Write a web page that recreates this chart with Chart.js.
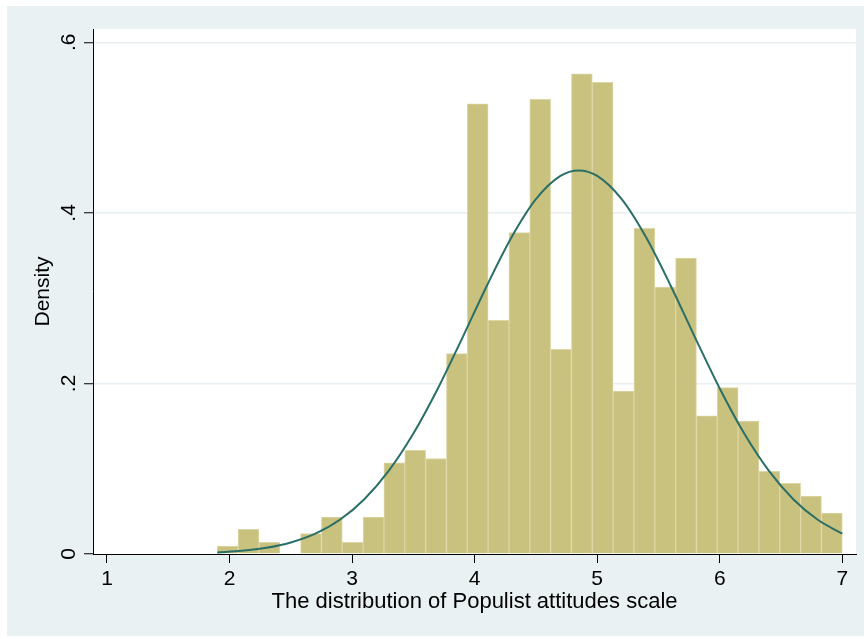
<!DOCTYPE html>
<html>
<head>
<meta charset="utf-8">
<script src="https://cdn.jsdelivr.net/npm/chart.js@4.4.1/dist/chart.umd.min.js"></script>
<style>
  html, body { margin: 0; padding: 0; background: #ffffff; }
  #wrap { width: 864px; height: 639px; }
</style>
</head>
<body>
<div id="wrap"><canvas id="c" width="864" height="639"></canvas></div>
<script>
// ---- Data ----
const binStart = 1.9;
const binWidth = 0.17;
const densityValues = [
  0.0094, 0.029, 0.0137, 0.0, 0.0238, 0.0434, 0.0137, 0.0434, 0.107, 0.1215,
  0.112, 0.235, 0.528, 0.274, 0.377, 0.533, 0.240, 0.563, 0.553, 0.191,
  0.382, 0.313, 0.347, 0.162, 0.195, 0.156, 0.097, 0.083, 0.068, 0.048
];
const curveX = [1.9, 2.1, 2.3, 2.5, 2.7, 2.9, 3.1, 3.3, 3.5, 3.7, 3.9, 4.1, 4.3, 4.5, 4.7, 4.85,
                5.0, 5.2, 5.4, 5.6, 5.8, 6.0, 6.2, 6.4, 6.6, 6.8, 7.0];
const curveY = [0.0018, 0.0037, 0.0072, 0.0135, 0.0238, 0.0401, 0.0642, 0.0977, 0.1412, 0.1941,
                0.2535, 0.3146, 0.3711, 0.4161, 0.4434, 0.4498,
                0.4434, 0.4161, 0.3711, 0.3146, 0.2535, 0.1941, 0.1412, 0.0977, 0.0642, 0.0401, 0.0238];
const xTicks = [1, 2, 3, 4, 5, 6, 7];
const yTicks = [0, 0.2, 0.4, 0.6];
const yTickLabels = ['0', '.2', '.4', '.6'];
const xTitle = 'The distribution of Populist attitudes scale';
const yTitle = 'Density';

// ---- Build datasets ----
const barData = densityValues.map((v, i) => ({ x: binStart + (i + 0.5) * binWidth, y: v }));
const lineData = curveX.map((x, i) => ({ x: x, y: curveY[i] }));

const FAMILY = '"Liberation Sans", Arial, Helvetica, sans-serif';
const FONT = { family: FAMILY, size: 21 };
const TITLE_FONT = { family: FAMILY, size: 22 };

const bgPlugin = {
  id: 'bg',
  beforeDraw(chart) {
    const ctx = chart.ctx;
    const a = chart.chartArea;
    ctx.save();
    ctx.fillStyle = '#ffffff';
    ctx.fillRect(0, 0, chart.width, chart.height);
    ctx.fillStyle = '#EAF1F3';
    ctx.fillRect(7, 6, chart.width - 7, 630);
    ctx.fillStyle = '#ffffff';
    ctx.fillRect(a.left, a.top, a.right - a.left, a.bottom - a.top);
    ctx.restore();
  }
};

new Chart(document.getElementById('c'), {
  type: 'bar',
  data: {
    datasets: [
      {
        type: 'line',
        data: lineData,
        borderColor: '#2A6F67',
        borderWidth: 2,
        pointRadius: 0,
        fill: false,
        cubicInterpolationMode: 'monotone',
        order: 0
      },
      {
        type: 'bar',
        data: barData,
        backgroundColor: '#C9C17E',
        borderColor: '#DDD6A6',
        borderWidth: 1,
        borderSkipped: 'bottom',
        barPercentage: 1.0,
        categoryPercentage: 1.0,
        order: 1
      }
    ]
  },
  options: {
    responsive: false,
    animation: false,
    devicePixelRatio: 1,
    layout: { padding: { left: 7, top: 29, right: 8, bottom: 3 } },
    plugins: { legend: { display: false }, tooltip: { enabled: false } },
    scales: {
      x: {
        type: 'linear',
        min: 0.8858,
        max: 7.112,
        offset: false,
        afterFit(s) { s.height = 82; },
        afterBuildTicks(s) { s.ticks = xTicks.map(v => ({ value: v })); },
        ticks: {
          font: FONT,
          color: '#000000',
          padding: 4,
          maxRotation: 0,
          minRotation: 0,
          autoSkip: false,
          callback: (v) => String(v)
        },
        grid: {
          offset: false,
          drawOnChartArea: false,
          drawTicks: true,
          tickLength: 9,
          tickColor: '#000000',
          tickWidth: 1
        },
        border: { display: true, color: '#000000', width: 1 },
        title: {
          display: true,
          text: xTitle,
          font: TITLE_FONT,
          color: '#000000',
          padding: { top: 0, bottom: 21 }
        }
      },
      y: {
        type: 'linear',
        min: 0,
        max: 0.6156,
        afterFit(s) { s.width = 86; },
        afterBuildTicks(s) { s.ticks = yTicks.map(v => ({ value: v })); },
        ticks: {
          font: FONT,
          color: '#000000',
          padding: 6,
          minRotation: 90,
          maxRotation: 90,
          crossAlign: 'center',
          autoSkip: false,
          callback: (v) => {
            const i = yTicks.findIndex(t => Math.abs(t - v) < 1e-9);
            return i >= 0 ? yTickLabels[i] : '';
          }
        },
        grid: {
          offset: false,
          drawOnChartArea: true,
          drawTicks: true,
          tickLength: 9,
          tickColor: '#000000',
          tickWidth: 1,
          lineWidth: 1.5,
          color: (ctx) => (ctx.tick && ctx.tick.value === 0) ? 'rgba(0,0,0,0)' : '#E8EFF2'
        },
        border: { display: true, color: '#000000', width: 1 },
        title: {
          display: true,
          text: yTitle,
          font: FONT,
          color: '#000000',
          padding: { top: 24, bottom: 0 }
        }
      }
    }
  },
  plugins: [bgPlugin]
});
</script>
</body>
</html>
